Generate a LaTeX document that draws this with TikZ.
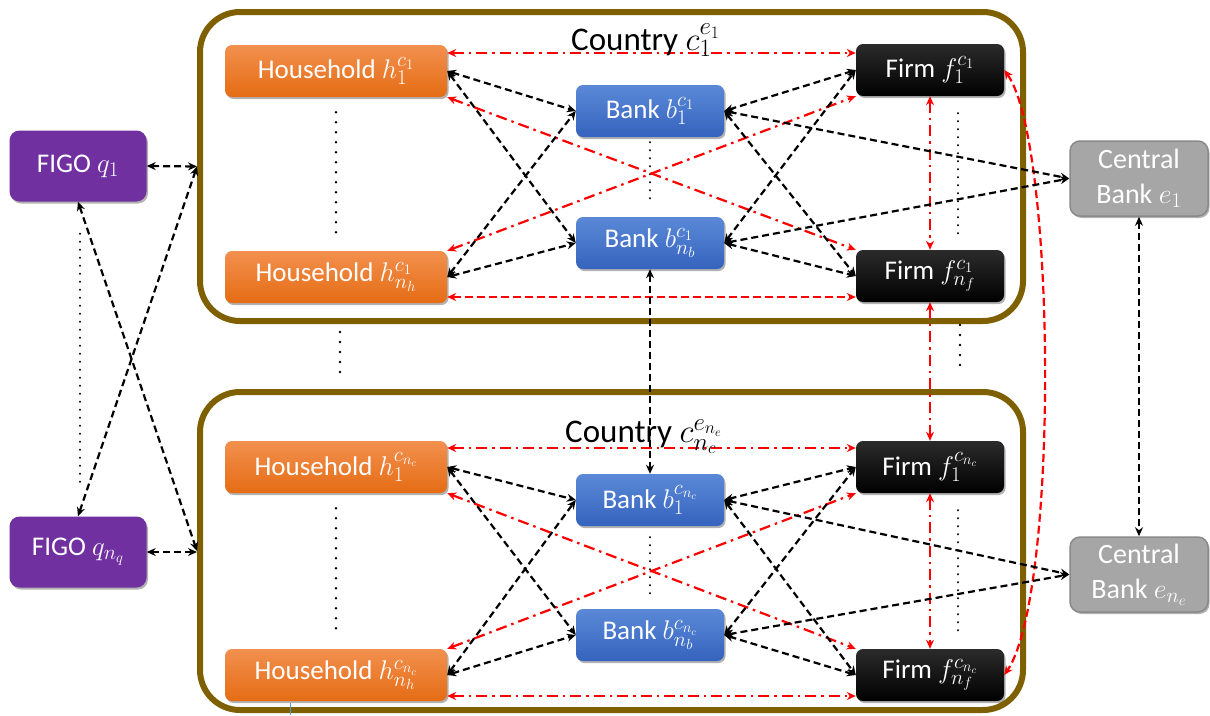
\documentclass[tikz,border=0pt]{standalone}
\usepackage{fix-cm}
\usepackage{fontspec}
\setmainfont{Carlito}
\newcommand{\sx}[1]{\mbox{\fontsize{21}{21}\selectfont$#1$}}
\newcommand{\tx}[1]{\mbox{\fontsize{25}{25}\selectfont$#1$}}
\usetikzlibrary{arrows.meta,shadows,calc}
\definecolor{brownc}{HTML}{7F6000}
\definecolor{hhtop}{HTML}{F2904E}
\definecolor{hhbot}{HTML}{E56C14}
\definecolor{bktop}{HTML}{5B89D7}
\definecolor{bkbot}{HTML}{3563BE}
\definecolor{fmtop}{HTML}{2B2B2B}
\definecolor{figoc}{HTML}{7030A0}
\definecolor{cbfill}{HTML}{A6A6A6}
\definecolor{cbdraw}{HTML}{8A8A8A}
\definecolor{redc}{HTML}{FF0000}
\definecolor{bluel}{HTML}{5B9BD5}
\begin{document}
\begin{tikzpicture}[x=1pt,y=-1pt,
  >={Stealth[length=9pt,width=8pt]},
  nbox/.style={rounded corners=7pt, minimum height=52pt, text=white, inner sep=2pt,
    font=\fontsize{27}{30}\selectfont,
    drop shadow={shadow xshift=1.5pt, shadow yshift=-2pt, opacity=0.3, fill=black}},
  hhbox/.style={nbox, minimum width=222pt, top color=hhtop, bottom color=hhbot},
  bkbox/.style={nbox, minimum width=148pt, top color=bktop, bottom color=bkbot},
  fmbox/.style={nbox, minimum width=148pt, top color=fmtop, bottom color=black},
  figobox/.style={nbox, minimum width=137pt, minimum height=71pt, fill=figoc, rounded corners=10pt},
  cbbox/.style={nbox, minimum width=138pt, minimum height=75pt, fill=cbfill, draw=cbdraw,
    line width=1.5pt, align=center, rounded corners=10pt, font=\fontsize{28}{35}\selectfont},
  cbox/.style={draw=brownc, line width=6pt, rounded corners=40pt, inner sep=0pt},
  ctitle/.style={font=\fontsize{33}{36}\selectfont, text=black, inner sep=0pt, anchor=base west},
  blk/.style={<->, draw=black, line width=2.2pt, dash pattern=on 7pt off 4pt},
  rdd/.style={<->, draw=redc, line width=2.2pt, dash pattern=on 11pt off 5pt on 2.5pt off 5pt},
  rda/.style={<->, draw=redc, line width=2.2pt, dash pattern=on 8pt off 4pt},
  dotl/.style={draw=black, line width=2.8pt, line cap=round, dash pattern=on 0pt off 10pt},
  dots/.style={draw=black, line width=2.2pt, line cap=round, dash pattern=on 0pt off 8pt}
]
\fill[white] (0,0) rectangle (1210,715);
\useasboundingbox (0,0) rectangle (1210,715);

% country boxes
\node[cbox, minimum width=823pt, minimum height=309pt] (CA) at (611.5,166.5) {};
\node[cbox, minimum width=823pt, minimum height=318pt] (CB) at (611.5,551) {};

% top country
\node[hhbox] (hA) at (336,71) {Household $h_{\sx{1}}^{\sx{c_1}}$};
\node[hhbox] (hB) at (336,277) {Household $h_{\sx{n_h}}^{\sx{c_1}}$};
\node[bkbox] (bA) at (650,111) {Bank $b_{\sx{1}}^{\sx{c_1}}$};
\node[bkbox] (bB) at (650,243) {Bank $b_{\sx{n_b}}^{\sx{c_1}}$};
\node[fmbox] (fA) at (930,70) {Firm $f_{\sx{1}}^{\sx{c_1}}$};
\node[fmbox] (fB) at (930,276) {Firm $f_{\sx{n_f}}^{\sx{c_1}}$};

% bottom country
\node[hhbox] (hC) at (336,467) {Household $h_{\sx{1}}^{\sx{c_{n_c}}}$};
\node[hhbox] (hD) at (336,675) {Household $h_{\sx{n_h}}^{\sx{c_{n_c}}}$};
\node[bkbox] (bC) at (650,500) {Bank $b_{\sx{1}}^{\sx{c_{n_c}}}$};
\node[bkbox] (bD) at (650,635) {Bank $b_{\sx{n_b}}^{\sx{c_{n_c}}}$};
\node[fmbox] (fC) at (930,467) {Firm $f_{\sx{1}}^{\sx{c_{n_c}}}$};
\node[fmbox] (fD) at (930,675) {Firm $f_{\sx{n_f}}^{\sx{c_{n_c}}}$};

% FIGOs and central banks
\node[figobox] (qA) at (78,166) {FIGO $q_{\sx{1}}$};
\node[figobox] (qB) at (78,552) {FIGO $q_{\sx{n_q}}$};
\node[cbbox] (eA) at (1139,178.5) {Central\\Bank $e_{\sx{1}}$};
\node[cbbox] (eB) at (1139,574.5) {Central\\Bank $e_{\sx{n_e}}$};

% dotted ellipses
\draw[dotl, shorten <=15pt, shorten >=14pt] (hA.south) -- (hB.north);
\draw[dotl, shorten <=15pt, shorten >=14pt] (hC.south) -- (hD.north);
\draw[dots, shorten <=5pt, shorten >=12pt] (bA.south) -- (bB.north);
\draw[dots, shorten <=11pt, shorten >=9pt] (bC.south) -- (bD.north);
\draw[dots, shorten <=17pt, shorten >=13pt] ([xshift=28pt]fA.south) -- ([xshift=28pt]fB.north);
\draw[dots, shorten <=17pt, shorten >=15pt] ([xshift=28pt]fC.south) -- ([xshift=28pt]fD.north);
\draw[dots, shorten <=32pt, shorten >=34pt] ([xshift=2pt]qA.south) -- ([xshift=2pt]qB.north);
\draw[dotl] (340,332) -- (340,373);
\draw[dotl] (960,325) -- (960,367);

% red connectors, top country
\coordinate (rA) at ([yshift=18pt]hA.east);
\coordinate (rB) at ([yshift=-20pt]hB.east);
\draw[rdd] (rA) -- (rA -| fA.west);
\draw[rda] (rB) -- (rB -| fB.west);
\draw[rdd] (hA.south east) -- (fB.north west);
\draw[rdd] (hB.north east) -- (fA.south west);
\draw[rdd] (fA.south) -- (fB.north);

% red connectors, bottom country
\coordinate (rC) at ([yshift=19pt]hC.east);
\coordinate (rD) at ([yshift=-21pt]hD.east);
\draw[rdd] (rC) -- (rC -| fC.west);
\draw[rdd] (rD) -- (rD -| fD.west);
\draw[rdd] (hC.south east) -- (fD.north west);
\draw[rdd] (hD.north east) -- (fC.south west);
\draw[rdd] (fC.south) -- (fD.north);

% red between countries
\draw[rdd] (fB.south) -- (fC.north);
\draw[rda] (fA.east) .. controls ($(fA.east)+(52,72)$) and ($(fD.east)+(55,-80)$) .. (fD.east);

% black connectors, top country
\draw[blk] (hA.east) -- (bA.west);
\draw[blk] (hA.east) -- (bB.west);
\draw[blk] (hB.east) -- (bA.west);
\draw[blk] (hB.east) -- (bB.west);
\draw[blk] (bA.east) -- (fA.west);
\draw[blk] (bA.east) -- (fB.west);
\draw[blk] (bB.east) -- (fA.west);
\draw[blk] (bB.east) -- (fB.west);
\draw[blk] (bA.east) -- (eA.west);
\draw[blk] (bB.east) -- (eA.west);

% black connectors, bottom country
\draw[blk] (hC.east) -- (bC.west);
\draw[blk] (hC.east) -- (bD.west);
\draw[blk] (hD.east) -- (bC.west);
\draw[blk] (hD.east) -- (bD.west);
\draw[blk] (bC.east) -- (fC.west);
\draw[blk] (bC.east) -- (fD.west);
\draw[blk] (bD.east) -- (fC.west);
\draw[blk] (bD.east) -- (fD.west);
\draw[blk] (bC.east) -- (eB.west);
\draw[blk] (bD.east) -- (eB.west);

% inter-country and FIGO links
\draw[blk] (bB.south) -- (bC.north);
\draw[blk] (eA.south) -- (eB.north);
\draw[blk] (qA.east) -- (CA.west);
\draw[blk] (qB.east) -- (qB.east -| CB.west);
\draw[blk] (qA.south) -- (CB.west);
\draw[blk] (qB.north) -- (CA.west);

% titles
\node[ctitle] (tA) at (571,50) {Country $c_{\tx{1}}^{\tx{e_1}}$};
\node[ctitle] (tB) at (565,442) {Country $c_{\tx{n_c}}^{\tx{e_{n_e}}}$};

% small blue mark
\draw[bluel, line width=1pt] (290,703) -- (290,715);
\end{tikzpicture}
\end{document}
